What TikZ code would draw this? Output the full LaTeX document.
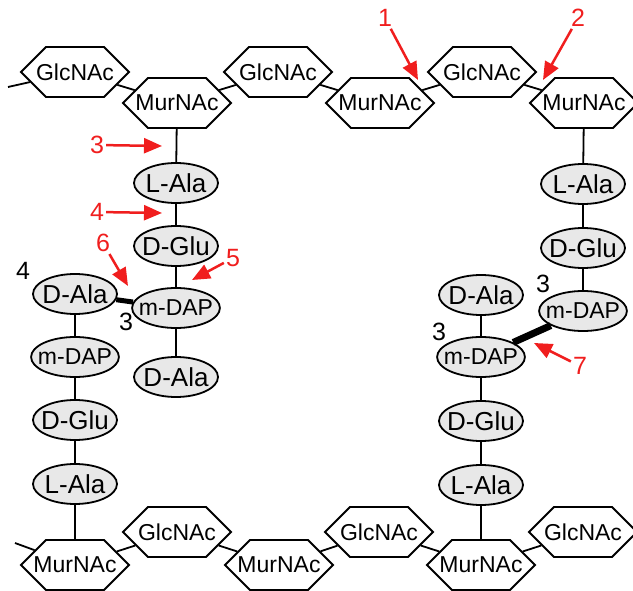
\documentclass[tikz,border=0pt]{standalone}
\usepackage{fontspec}
\setmainfont{Liberation Sans}
\usetikzlibrary{shapes.geometric,shapes.symbols,arrows.meta}
\definecolor{cutred}{RGB}{240,30,30}
\definecolor{resgray}{RGB}{232,232,232}
\newcommand{\fsz}[1]{\fontsize{#1}{#1}\selectfont}
\newcommand{\sug}[1]{\makebox[58pt]{#1}}

\begin{document}
\begin{tikzpicture}[x=1pt,y=-1pt,
    sugar/.style={signal, signal to=west and east, signal pointer angle=90,
      draw, line width=1.8pt, fill=white, minimum height=50pt,
      inner sep=0pt, font=\fsz{23}},
    amino/.style={ellipse, draw, line width=1.8pt, fill=resgray,
      minimum width=84pt, minimum height=40pt, inner xsep=-6pt,
      inner ysep=-4pt, font=\fsz{26}},
    dap/.style={amino, font=\fsz{23}},
    bond/.style={line width=1.8pt},
    xlink/.style={line width=#1},
    num/.style={font=\fsz{25}, inner sep=2pt},
    cutnum/.style={num, text=cutred},
    cut/.style={draw=cutred, line width=2.5pt, -{Triangle[length=18pt,width=15pt]}}]
    \useasboundingbox (0,0) rectangle (633,591);

    \node[sugar] (g1) at (75,72) {\sug{GlcNAc}};
    \node[sugar] (m1) at (177,103) {\sug{MurNAc}};
    \node[sugar] (g2) at (278,72) {\sug{GlcNAc}};
    \node[sugar] (m2) at (380,103) {\sug{MurNAc}};
    \node[sugar] (g3) at (482,72) {\sug{GlcNAc}};
    \node[sugar] (m3) at (584,103) {\sug{MurNAc}};
    \coordinate (topend) at (8,87);

    \node[sugar] (m4) at (75,565) {\sug{MurNAc}};
    \node[sugar] (g4) at (177,532) {\sug{GlcNAc}};
    \node[sugar] (m5) at (279,565) {\sug{MurNAc}};
    \node[sugar] (g5) at (379,532) {\sug{GlcNAc}};
    \node[sugar] (m6) at (481,565) {\sug{MurNAc}};
    \node[sugar] (g6) at (583,532) {\sug{GlcNAc}};
    \coordinate (botend) at (15,543);

    \node[amino] (a1) at (176,183) {L-Ala};
    \node[amino] (a2) at (176,246) {D-Glu};
    \node[dap]   (a3) at (176,308) {m-DAP};
    \node[amino] (a4) at (176,377) {D-Ala};

    \node[amino] (b4) at (75,294) {D-Ala};
    \node[dap]   (b3) at (75,357) {m-DAP};
    \node[amino] (b2) at (75,420) {D-Glu};
    \node[amino] (b1) at (75,484) {L-Ala};

    \node[amino] (c1) at (583,184) {L-Ala};
    \node[amino] (c2) at (583,248) {D-Glu};
    \node[dap]   (c3) at (583,311) {m-DAP};

    \node[amino] (d4) at (481,295) {D-Ala};
    \node[dap]   (d3) at (481,357) {m-DAP};
    \node[amino] (d2) at (481,421) {D-Glu};
    \node[amino] (d1) at (481,485) {L-Ala};

    \draw[bond] (topend) -- (g1) -- (m1) -- (g2) -- (m2) -- (g3) -- (m3);
    \draw[bond] (botend) -- (m4) -- (g4) -- (m5) -- (g5) -- (m6) -- (g6);
    \draw[bond] (m1) -- (a1) -- (a2) -- (a3) -- (a4);
    \draw[bond] (b4) -- (b3) -- (b2) -- (b1) -- (m4);
    \draw[bond] (m3) -- (c1) -- (c2) -- (c3);
    \draw[bond] (d4) -- (d3) -- (d2) -- (d1) -- (m6);
    \draw[xlink=5pt] (b4) -- (a3);
    \draw[xlink=7pt] (d3) -- (c3);

    \node[num] (n4) at (23,271) {4};
    \node[num] (n3a) at (126,322) {3};
    \node[num] (n3b) at (543,284) {3};
    \node[num] (n3c) at (439,332) {3};

    \node[cutnum] (l1) at (385,18) {1};
    \node[cutnum] (l2) at (578,18) {2};
    \node[cutnum] (l3) at (97,145) {3};
    \node[cutnum] (l4) at (97,212) {4};
    \node[cutnum] (l5) at (233,258) {5};
    \node[cutnum] (l6) at (103,243) {6};
    \node[cutnum] (l7) at (580,366) {7};
    \coordinate (t1) at (418,80);
    \coordinate (t2) at (543,80);
    \coordinate (t3) at (162,146);
    \coordinate (t4) at (162,213);
    \coordinate (t5) at (192,280);
    \coordinate (t6) at (128,286);
    \coordinate (t7) at (534,343);
    \draw[cut] (l1) -- (t1);
    \draw[cut] (l2) -- (t2);
    \draw[cut] (l3) -- (t3);
    \draw[cut] (l4) -- (t4);
    \draw[cut] (l5) -- (t5);
    \draw[cut] (l6) -- (t6);
    \draw[cut] (l7) -- (t7);
\end{tikzpicture}
\end{document}
